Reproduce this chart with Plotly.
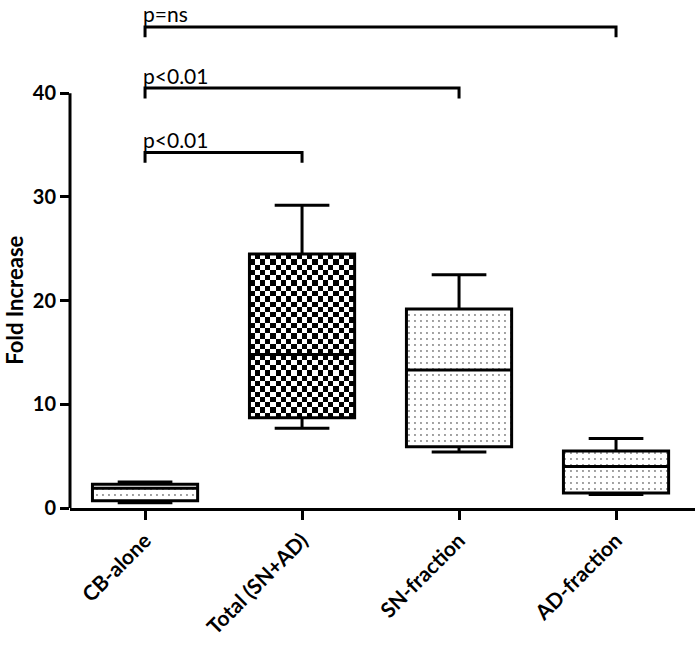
import plotly.graph_objects as go
import numpy as np

categories = ["CB-alone", "Total (SN+AD)", "SN-fraction", "AD-fraction"]
lower_whisker = [0.5, 7.7, 5.4, 1.3]
q1_vals = [0.7, 8.7, 5.9, 1.45]
median_vals = [1.9, 14.8, 13.3, 4.0]
q3_vals = [2.3, 24.5, 19.2, 5.5]
upper_whisker = [2.5, 29.2, 22.5, 6.7]

y_ticks = [0, 10, 20, 30, 40]
y_title = "Fold Increase"

# significance brackets: (from category index, to category index)
bracket_from = [0, 0, 0]
bracket_to = [1, 2, 3]
bracket_y = [34.3, 40.5, 46.4]
bracket_labels = ["p<0.01", "p<0.01", "p=ns"]

FONT = "Lato"
xpos = list(range(len(categories)))
BOXW = 0.67

fig = go.Figure()

# checkerboard texture for the Total box
ti = 1
ncols = 20
x_edges = np.linspace(ti - BOXW / 2, ti + BOXW / 2, ncols + 1)
cell_h = (BOXW / ncols) * 157 / 10.367
nrows = max(1, int(round((q3_vals[ti] - q1_vals[ti]) / cell_h)))
y_edges = np.linspace(q1_vals[ti], q3_vals[ti], nrows + 1)
z = [[(i + j) % 2 for j in range(ncols)] for i in range(nrows)]
fig.add_trace(go.Heatmap(x=x_edges, y=y_edges, z=z, colorscale=[[0, "white"], [1, "black"]],
                         showscale=False, hoverinfo="skip", zsmooth=False))

# dotted fills
dot_idx = [0, 2, 3]
fig.add_trace(go.Bar(
    x=[xpos[i] for i in dot_idx],
    y=[q3_vals[i] - q1_vals[i] for i in dot_idx],
    base=[q1_vals[i] for i in dot_idx],
    width=BOXW,
    marker=dict(color="white", line=dict(width=0),
                pattern=dict(shape=".", size=6, solidity=0.08, fgcolor="black", bgcolor="white")),
    showlegend=False, hoverinfo="skip"))

fig.add_trace(go.Box(
    x=xpos, q1=q1_vals, median=median_vals, q3=q3_vals,
    lowerfence=lower_whisker, upperfence=upper_whisker,
    width=BOXW, whiskerwidth=0.52, boxpoints=False,
    fillcolor="rgba(0,0,0,0)", line=dict(color="black", width=3),
    showlegend=False, hoverinfo="skip"))

for a, b, yv, lab in zip(bracket_from, bracket_to, bracket_y, bracket_labels):
    fig.add_trace(go.Scatter(x=[a, a, b, b], y=[yv - 1.0, yv, yv, yv - 1.0], mode="lines",
                             line=dict(color="black", width=3), showlegend=False, hoverinfo="skip"))
    fig.add_annotation(x=a, y=yv, text=lab, showarrow=False, xanchor="left", yanchor="middle",
                       xshift=-3, yshift=13, borderpad=0,
                       font=dict(family=FONT, size=21, color="black"))

# y axis title centred on the 0-40 axis
fig.add_annotation(xref="paper", x=0, y=y_ticks[-1] / 2, text="<b>%s</b>" % y_title, textangle=-90,
                   showarrow=False, xanchor="center", yanchor="middle", xshift=-55,
                   font=dict(family=FONT, size=22, color="black"))

# y axis line only up to 40
fig.add_shape(type="line", xref="paper", yref="y", x0=0, x1=0, y0=0, y1=40,
              line=dict(color="black", width=3))

fig.update_layout(
    width=700, height=648,
    margin=dict(l=70, r=5, t=0, b=140, autoexpand=False),
    plot_bgcolor="white", paper_bgcolor="white",
    barmode="overlay", showlegend=False,
    xaxis=dict(range=[-0.478, 3.503], tickvals=xpos, ticktext=["<b>%s</b>" % c for c in categories],
               tickangle=-45, automargin=False,
               showline=True, linecolor="black", linewidth=3, ticks="outside", ticklen=9,
               tickwidth=3, tickcolor="black", showgrid=False, zeroline=False,
               tickfont=dict(family=FONT, size=21, color="black")),
    yaxis=dict(range=[0, 49], tickvals=y_ticks, ticktext=["<b>%d</b>" % t for t in y_ticks],
               automargin=False, showline=False, ticks="outside", ticklen=9,
               tickwidth=3, tickcolor="black", showgrid=False, zeroline=False,
               tickfont=dict(family=FONT, size=20, color="black")),
)

fig.write_html("out.html", config={"displayModeBar": False},
               post_script="document.body.style.margin='0';")
